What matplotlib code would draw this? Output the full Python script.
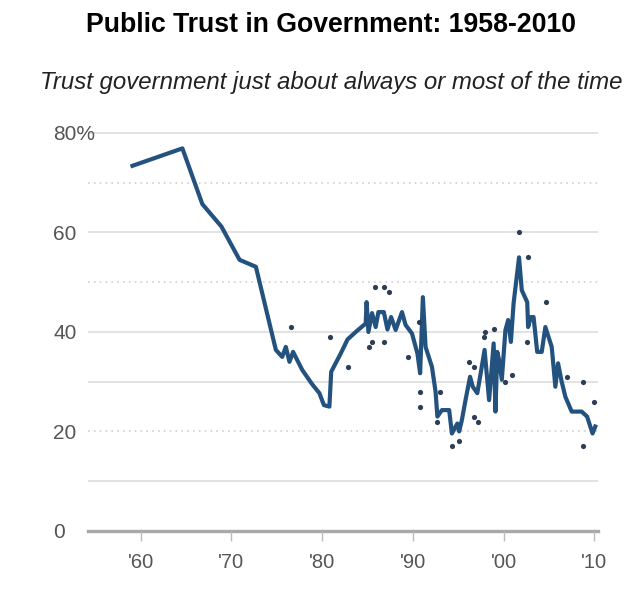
import matplotlib
matplotlib.use('Agg')
import matplotlib.pyplot as plt

# trend line (year, percent trusting government)
line_years = [1959.1, 1964.6, 1966.8, 1968.9, 1970.9, 1972.7, 1974.9, 1975.6, 1976.0,
              1976.4, 1976.8, 1977.8, 1978.9, 1979.7, 1980.2, 1980.8, 1981.0, 1982.0,
              1982.8, 1983.7, 1984.8, 1984.9, 1985.1, 1985.5, 1985.9, 1986.2, 1986.8,
              1987.2, 1987.6, 1988.1, 1988.8, 1989.2, 1989.9, 1990.5, 1990.8, 1991.1,
              1991.4, 1992.1, 1992.5, 1992.7, 1993.2, 1994.0, 1994.3, 1994.9, 1995.1,
              1995.4, 1995.8, 1996.3, 1996.6, 1997.1, 1997.5, 1997.9, 1998.4, 1998.9,
              1999.1, 1999.3, 1999.5, 1999.8, 2000.2, 2000.5, 2000.8, 2001.1, 2001.7,
              2002.0, 2002.6, 2002.7, 2003.0, 2003.3, 2003.7, 2004.2, 2004.6, 2005.3,
              2005.7, 2006.0, 2006.4, 2006.8, 2007.5, 2008.6, 2009.2, 2009.8, 2010.1]
line_values = [73.4, 76.9, 65.7, 61.2, 54.5, 53.1, 36.4, 35, 37,
               34, 36, 32.4, 29.5, 27.7, 25.3, 25, 32, 35.5,
               38.5, 40, 41.7, 46, 40, 43.8, 41, 44, 44,
               40.5, 43, 40.4, 44, 41.4, 39.7, 35.7, 31.7, 47,
               37, 33, 28, 23, 24.3, 24.3, 19.6, 21.6, 20,
               22.3, 26.3, 31, 29, 27.7, 32, 36.4, 26.3, 37.7,
               24, 36, 34.4, 30.4, 40.4, 42.4, 38, 45.8, 55,
               48.4, 46, 41, 43, 43, 36, 36, 41, 37,
               29, 33.7, 30, 27, 24, 24, 23, 19.6, 21]

# individual poll readings
poll_years = [1976.6, 1980.9, 1982.9, 1985.2, 1985.5, 1985.8, 1986.8, 1987.4, 1986.8,
              1989.5, 1990.8, 1990.8, 1990.7, 1993.0, 1992.7, 1994.3, 1995.1, 1996.2,
              1996.7, 1996.7, 1997.2, 1997.8, 1998.0, 1998.9, 2000.2, 2000.9, 2001.7,
              2002.7, 2002.6, 2004.7, 2007.0, 2008.7, 2008.7, 2010.0]
poll_values = [41, 39, 33, 37, 38, 49, 49, 48, 38,
               35, 28, 25, 42, 28, 22, 17, 18, 34,
               33, 23, 22, 39, 40, 40.5, 30, 31.4, 60,
               55, 38, 46, 31, 30, 17, 26]

x_ticks = [1960, 1970, 1980, 1990, 2000, 2010]
x_labels = ["'60", "'70", "'80", "'90", "'00", "'10"]
y_ticks = [0, 20, 40, 60, 80]
y_labels = ['0', '20', '40', '60', '80%']

plt.rcParams['font.family'] = ['Liberation Sans', 'DejaVu Sans']

fig = plt.figure(figsize=(6.31, 5.9), dpi=100)
ax = fig.add_axes([88 / 631, 0.1, 510 / 631, 0.6915])

# gridlines: solid and dotted as in the original
for v in [10, 30, 40, 60, 80]:
    ax.axhline(v, color='#e2e2e2', lw=1.4, zorder=0)
for v in [20, 50, 70]:
    ax.axhline(v, color='#cfcfcf', lw=1.2, ls=(0, (1, 2.5)), zorder=0)
ax.axhline(0, color='#a8a8a8', lw=2.4, zorder=1, clip_on=False)

ax.plot(line_years, line_values, color='#24527e', lw=3.0, solid_joinstyle='round', zorder=3)
ax.scatter(poll_years, poll_values, s=14, color='#2c3e55', zorder=4, linewidths=0)

ax.set_xlim(1954.2, 2010.4)
ax.set_ylim(0, 82)
for s in ax.spines.values():
    s.set_visible(False)

ax.set_xticks(x_ticks)
ax.set_xticklabels(x_labels, fontsize=14.5, color='#555555')
ax.tick_params(axis='x', length=7, width=1, color='#bbbbbb', pad=9)
ax.set_yticks(y_ticks)
ax.set_yticklabels(y_labels, fontsize=15, color='#555555', ha='left')
ax.tick_params(axis='y', length=0, pad=25)

fig.text(0.525, 0.957, 'Public Trust in Government: 1958-2010', ha='center', va='center',
         fontsize=19.2, fontweight='bold')
fig.text(0.525, 0.861, 'Trust government just about always or most of the time', ha='center',
         va='center', fontsize=17.3, style='italic', color='#222222')

fig.savefig('out.png', dpi=100, facecolor='white')
